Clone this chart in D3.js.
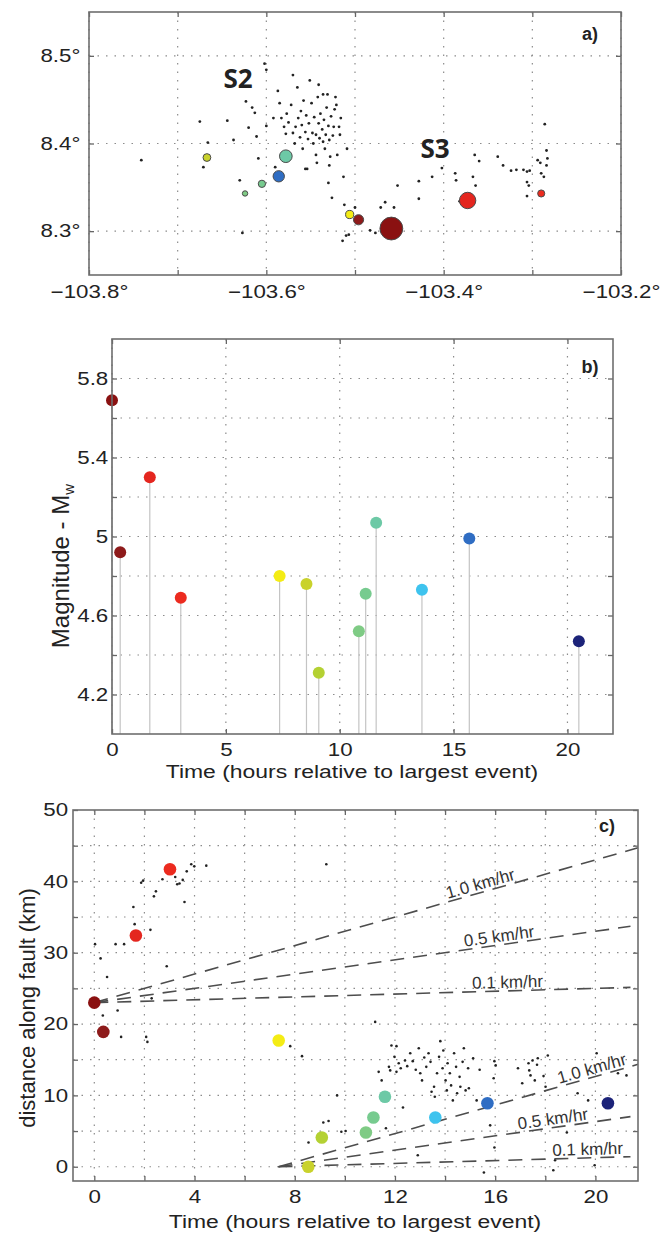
<!DOCTYPE html>
<html>
<head>
<meta charset="utf-8">
<script src="https://cdn.jsdelivr.net/npm/d3@7"></script>
<style>
body { margin: 0; background: #fff; }
svg { display: block; background: #fff; }
text { font-family: "Liberation Sans", Arial, Helvetica, sans-serif; fill: #222; }
.grid line { stroke: #8c8c8c; stroke-width: 1.2; stroke-dasharray: 1.5, 7; }
.tick line { stroke: #666; stroke-width: 1.3; }
.frame { fill: none; stroke: #6e6e6e; stroke-width: 1.6; }
</style>
</head>
<body>
<svg></svg>
<script>
//* ---------- data ----------
// events (shared by panels b and c)
const eventTime = [0.0, 0.36, 1.66, 3.02, 7.36, 8.54, 9.08, 10.84, 11.14, 11.6, 13.61, 15.69, 20.5];
const eventMag = [5.69, 4.92, 5.30, 4.69, 4.80, 4.76, 4.31, 4.52, 4.71, 5.07, 4.73, 4.99, 4.47];
const eventDist = [23.0, 18.9, 32.4, 41.7, 17.7, 0.0, 4.1, 4.8, 6.9, 9.8, 6.9, 8.9, 8.9];
const eventPalette = ["#8a1111", "#8e1b1b", "#e4261f", "#ec2b1f", "#f4ec14", "#c9d22c", "#b4d133",
	"#7fcb85", "#77cb8f", "#6dc9a6", "#3ec3ee", "#2f6dc3", "#1c2379"];

// events located on the map (index into the event arrays)
const mapEvent = [0, 1, 2, 3, 4, 5, 7, 8, 9, 11];
const mapLon = [-103.459, -103.496, -103.373, -103.290, -103.506, -103.667, -103.624, -103.605, -103.578, -103.586];
const mapLat = [8.303, 8.313, 8.335, 8.343, 8.319, 8.384, 8.343, 8.354, 8.3855, 8.3626];

// aftershock epicentres (lon, lat)
const mapDots = [
	[-103.741, 8.381], [-103.675, 8.425], [-103.671, 8.373], [-103.666, 8.401], [-103.644, 8.426],
	[-103.637, 8.404], [-103.630, 8.358], [-103.627, 8.298], [-103.623, 8.448], [-103.620, 8.418],
	[-103.616, 8.441], [-103.613, 8.435], [-103.611, 8.408], [-103.609, 8.383], [-103.602, 8.491],
	[-103.600, 8.484], [-103.600, 8.420], [-103.592, 8.429], [-103.590, 8.373], [-103.587, 8.460],
	[-103.585, 8.446], [-103.583, 8.429], [-103.580, 8.419], [-103.578, 8.411], [-103.577, 8.434],
	[-103.575, 8.424], [-103.572, 8.444], [-103.570, 8.478], [-103.570, 8.412], [-103.568, 8.400],
	[-103.567, 8.419], [-103.565, 8.464], [-103.564, 8.429], [-103.562, 8.407], [-103.561, 8.437],
	[-103.560, 8.421], [-103.559, 8.394], [-103.558, 8.449], [-103.556, 8.413], [-103.555, 8.432],
	[-103.554, 8.371], [-103.553, 8.405], [-103.552, 8.423], [-103.551, 8.472], [-103.549, 8.446],
	[-103.548, 8.412], [-103.547, 8.400], [-103.546, 8.430], [-103.544, 8.387], [-103.544, 8.410],
	[-103.542, 8.453], [-103.541, 8.423], [-103.541, 8.467], [-103.540, 8.406], [-103.539, 8.434],
	[-103.537, 8.416], [-103.536, 8.402], [-103.536, 8.456], [-103.535, 8.427], [-103.534, 8.394],
	[-103.533, 8.410], [-103.532, 8.441], [-103.531, 8.456], [-103.530, 8.420], [-103.529, 8.404],
	[-103.529, 8.375], [-103.528, 8.385], [-103.527, 8.431], [-103.525, 8.409], [-103.524, 8.419],
	[-103.523, 8.439], [-103.522, 8.453], [-103.521, 8.444], [-103.520, 8.387], [-103.518, 8.419],
	[-103.517, 8.410], [-103.516, 8.429], [-103.513, 8.362], [-103.512, 8.330], [-103.509, 8.394],
	[-103.507, 8.296], [-103.514, 8.289], [-103.510, 8.295], [-103.500, 8.327], [-103.483, 8.301],
	[-103.477, 8.298], [-103.471, 8.327], [-103.466, 8.333], [-103.456, 8.327], [-103.452, 8.352],
	[-103.526, 8.338], [-103.530, 8.355], [-103.543, 8.378], [-103.556, 8.371],
	[-103.428, 8.357], [-103.428, 8.337], [-103.413, 8.362], [-103.402, 8.372], [-103.387, 8.366],
	[-103.386, 8.358], [-103.382, 8.334], [-103.367, 8.362], [-103.365, 8.387], [-103.364, 8.352],
	[-103.360, 8.380], [-103.339, 8.385], [-103.333, 8.375], [-103.324, 8.369], [-103.318, 8.370],
	[-103.310, 8.370], [-103.306, 8.368], [-103.303, 8.369], [-103.306, 8.356], [-103.304, 8.352],
	[-103.306, 8.340], [-103.294, 8.381], [-103.291, 8.378], [-103.290, 8.366], [-103.286, 8.422],
	[-103.284, 8.392], [-103.283, 8.383], [-103.284, 8.375], [-103.287, 8.362]
];

// aftershocks in time / distance (hours, km)
const faultDots = [
	[0.03, 31.2], [0.25, 29.2], [0.51, 26.6], [0.34, 21.2], [0.93, 21.9], [1.07, 18.2], [0.85, 31.2],
	[1.19, 31.2], [1.56, 36.4], [1.61, 34.0], [2.07, 18.2], [2.12, 17.5], [2.24, 33.2], [2.29, 23.6],
	[1.87, 39.8], [1.95, 40.1], [2.38, 37.9], [2.46, 38.6], [2.89, 28.1], [2.72, 40.3], [3.23, 40.6],
	[3.31, 39.6], [3.40, 39.7], [3.53, 40.2], [3.69, 41.4], [3.60, 37.1], [3.87, 42.4], [3.99, 42.1],
	[4.47, 42.2], [9.26, 42.4], [7.82, 16.9], [8.29, 15.5], [11.21, 20.3], [8.55, 3.4], [9.14, 6.2],
	[9.35, 6.4], [9.69, 10.0], [9.86, 4.9], [10.03, 5.0], [11.64, 5.4], [12.32, 8.3], [12.91, 1.6],
	[15.55, -0.8], [15.97, 2.7], [15.80, 5.8], [18.32, -0.5],
	[11.35, 13.3], [11.47, 12.1], [11.76, 14.0], [11.86, 17.0], [12.06, 16.9], [11.98, 15.4],
	[12.15, 14.5], [12.23, 13.8], [11.81, 13.5], [12.40, 14.9], [12.49, 14.1], [12.61, 15.9],
	[12.71, 14.8], [12.83, 13.6], [12.95, 16.6], [13.01, 13.1], [13.08, 12.1], [13.17, 15.3],
	[13.25, 14.0], [13.34, 15.9], [13.42, 14.7], [13.46, 10.5], [13.56, 11.2], [13.59, 9.8],
	[13.68, 13.1], [13.76, 15.4], [13.81, 17.6], [13.90, 13.8], [13.93, 16.3], [14.02, 12.1],
	[14.07, 10.7], [14.10, 14.5], [14.19, 13.1], [14.24, 11.4], [14.31, 9.3], [14.36, 15.9],
	[14.44, 14.0], [14.48, 10.3], [14.58, 12.6], [14.61, 11.2], [14.70, 14.7], [14.75, 16.6],
	[14.82, 10.7], [14.92, 13.8], [14.95, 11.0], [15.12, 15.2], [15.26, 9.3], [15.38, 13.6],
	[15.97, 14.8], [16.02, 14.2], [15.94, 12.4], [16.91, 13.8], [17.08, 11.7], [17.33, 14.5],
	[17.36, 13.5], [17.41, 12.8], [17.49, 14.9], [17.58, 12.1], [17.67, 14.3], [17.70, 15.2],
	[17.93, 12.7], [18.01, 11.2], [18.10, 15.6], [19.29, 10.3], [20.05, 15.9], [20.90, 13.1],
	[21.24, 12.8], [19.97, 0.2], [18.39, 0.9], [18.86, 4.8], [19.71, 9.3], [12.06, 13.3]
];

// migration-rate reference lines
const rates = [1.0, 0.5, 0.1];
const rateNames = ["1.0 km/hr", "0.5 km/hr", "0.1 km/hr"];
const rateOrigins = [[0.0, 23.0], [7.35, 0.0]];
const rateLabelTime = [[15.5, 16.2, 16.5], [19.95, 18.35, 19.7]];

// ticks
const lonTicks = [-103.8, -103.7, -103.6, -103.5, -103.4, -103.3, -103.2];
const lonLabels = ["−103.8°", "", "−103.6°", "", "−103.4°", "", "−103.2°"];
const latTicks = [8.3, 8.4, 8.5];
const latLabels = ["8.3°", "8.4°", "8.5°"];
const hourTicksB = [0, 5, 10, 15, 20];
const hourLabelsB = ["0", "5", "10", "15", "20"];
const magTicks = [4.2, 4.4, 4.6, 4.8, 5.0, 5.2, 5.4, 5.6, 5.8];
const magLabels = ["4.2", "", "4.6", "", "5", "", "5.4", "", "5.8"];
const hourTicksC = [0, 2, 4, 6, 8, 10, 12, 14, 16, 18, 20];
const hourLabelsC = ["0", "", "4", "", "8", "", "12", "", "16", "", "20"];
const distTicks = [0, 5, 10, 15, 20, 25, 30, 35, 40, 45];
const distLabels = ["0", "", "10", "", "20", "", "30", "", "40", ""];

//* ---------- svg ----------
const svg = d3.select("svg").attr("width", 670).attr("height", 1234);
const STRETCH = "scale(1.24,1)";

function lab(ticks, labels) {
	return (d) => labels[ticks.findIndex((t) => Math.abs(t - d) < 1e-9)];
}

function panel(p) {
	const x = d3.scaleLinear().domain(p.xd).range([p.l, p.r]);
	const y = d3.scaleLinear().domain(p.yd).range([p.b, p.t]);
	const grid = svg.append("g").attr("class", "grid");
	grid.selectAll("line.gx")
		.data(p.xGrid)
		.join("line")
		.attr("x1", (d) => x(d)).attr("x2", (d) => x(d))
		.attr("y1", p.t).attr("y2", p.b);
	grid.selectAll("line.gy")
		.data(p.yGrid)
		.join("line")
		.attr("class", "gy")
		.attr("x1", p.l).attr("x2", p.r)
		.attr("y1", (d) => y(d)).attr("y2", (d) => y(d));
	const data = svg.append("g");
	const axes = svg.append("g");
	const tk = 5;
	axes.append("g").attr("transform", `translate(0,${p.b})`)
		.call(d3.axisBottom(x).tickValues(p.xTicks).tickSizeInner(-tk).tickSizeOuter(0)
			.tickPadding(p.padX).tickFormat(lab(p.xTicks, p.xLabels)));
	axes.append("g").attr("transform", `translate(0,${p.t})`)
		.call(d3.axisTop(x).tickValues(p.xTicks).tickSizeInner(-tk).tickSizeOuter(0).tickFormat(""));
	axes.append("g").attr("transform", `translate(${p.l},0)`)
		.call(d3.axisLeft(y).tickValues(p.yTicks).tickSizeInner(-tk).tickSizeOuter(0)
			.tickPadding(p.padY).tickFormat(lab(p.yTicks, p.yLabels)));
	axes.append("g").attr("transform", `translate(${p.r},0)`)
		.call(d3.axisRight(y).tickValues(p.yTicks).tickSizeInner(-tk).tickSizeOuter(0).tickFormat(""));
	axes.selectAll(".domain").remove();
	axes.selectAll(".tick text")
		.attr("font-size", 18)
		.attr("font-family", null)
		.style("fill", "#222")
		.attr("transform", STRETCH);
	axes.append("rect").attr("class", "frame")
		.attr("x", p.l).attr("y", p.t).attr("width", p.r - p.l).attr("height", p.b - p.t);
	axes.append("text")
		.attr("x", p.tagX).attr("y", p.tagY)
		.attr("font-size", 18).attr("font-weight", "bold")
		.attr("text-anchor", "middle")
		.text(p.tag);
	return { x, y, data, axes };
}

//* ---------- panel a : map ----------
const A = panel({
	l: 89, r: 621, t: 12, b: 275,
	xd: [-103.8, -103.2], yd: [8.25, 8.55],
	xGrid: lonTicks, yGrid: latTicks,
	xTicks: lonTicks, xLabels: lonLabels, yTicks: latTicks, yLabels: latLabels,
	padX: 10, padY: 7, tag: "a)", tagX: 590, tagY: 40
});
const magRadius = d3.scaleLinear().domain([4.5, 4.8, 5.7]).range([2.6, 4.1, 11.5]);

A.data.selectAll("circle.dot")
	.data(mapDots)
	.join("circle")
	.attr("class", "dot")
	.attr("cx", (d) => A.x(d[0]))
	.attr("cy", (d) => A.y(d[1]))
	.attr("r", 1.4)
	.style("fill", "#222");

A.data.selectAll("circle.ev")
	.data(mapEvent.map((e, i) => ({ e, lon: mapLon[i], lat: mapLat[i] })))
	.join("circle")
	.attr("class", "ev")
	.attr("cx", (d) => A.x(d.lon))
	.attr("cy", (d) => A.y(d.lat))
	.attr("r", (d) => magRadius(eventMag[d.e]))
	.style("fill", (d) => eventPalette[d.e])
	.style("stroke", "#4a4a4a")
	.style("stroke-width", 1);

A.axes.append("text").attr("x", 238).attr("y", 88)
	.attr("text-anchor", "middle").attr("font-size", 26).attr("font-weight", 700)
	.style("font-family", "'Open Sans', sans-serif").text("S2");
A.axes.append("text").attr("x", 435).attr("y", 158)
	.attr("text-anchor", "middle").attr("font-size", 26).attr("font-weight", 700)
	.style("font-family", "'Open Sans', sans-serif").text("S3");

//* ---------- panel b : magnitude vs time ----------
const B = panel({
	l: 112, r: 613, t: 339, b: 734,
	xd: [0, 22], yd: [4.0, 6.0],
	xGrid: hourTicksB, yGrid: magTicks,
	xTicks: hourTicksB, xLabels: hourLabelsB, yTicks: magTicks, yLabels: magLabels,
	padX: 9, padY: 3, tag: "b)", tagX: 590, tagY: 373
});

B.data.selectAll("line.stem")
	.data(eventTime)
	.join("line")
	.attr("class", "stem")
	.attr("x1", (d) => B.x(d)).attr("x2", (d) => B.x(d))
	.attr("y1", B.y(4.0))
	.attr("y2", (_, i) => B.y(eventMag[i]))
	.style("stroke", "#c4c4c4")
	.style("stroke-width", 1.2);

B.data.selectAll("circle.ev")
	.data(eventTime)
	.join("circle")
	.attr("class", "ev")
	.attr("cx", (d) => B.x(d))
	.attr("cy", (_, i) => B.y(eventMag[i]))
	.attr("r", 6)
	.style("fill", (_, i) => eventPalette[i]);

svg.append("text")
	.attr("transform", `translate(352,778) ${STRETCH}`)
	.attr("text-anchor", "middle").attr("font-size", 18.5)
	.text("Time (hours relative to largest event)");

const magTitle = svg.append("text")
	.attr("transform", "translate(69,566) rotate(-90)")
	.attr("text-anchor", "middle").attr("font-size", 24)
	.text("Magnitude - M");
magTitle.append("tspan").attr("font-size", 15).attr("dy", 5).text("w");

//* ---------- panel c : distance vs time ----------
const C = panel({
	l: 73, r: 638, t: 810, b: 1181,
	xd: [-0.85, 21.7], yd: [-2, 50],
	xGrid: hourTicksC, yGrid: distTicks,
	xTicks: hourTicksC, xLabels: hourLabelsC, yTicks: distTicks.concat([50]), yLabels: distLabels.concat(["50"]),
	padX: 9, padY: 4, tag: "c)", tagX: 607, tagY: 832
});

C.data.selectAll("circle.dot")
	.data(faultDots)
	.join("circle")
	.attr("class", "dot")
	.attr("cx", (d) => C.x(d[0]))
	.attr("cy", (d) => C.y(d[1]))
	.attr("r", 1.3)
	.style("fill", "#222");

const rateLines = [];
rateOrigins.forEach((o, gi) => {
	rates.forEach((v, ri) => {
		rateLines.push({ o, v, name: rateNames[ri], tl: rateLabelTime[gi][ri], end: ri === 0 ? 21.7 : 21.4 });
	});
});

C.data.selectAll("line.rate")
	.data(rateLines)
	.join("line")
	.attr("class", "rate")
	.attr("x1", (d) => C.x(d.o[0]))
	.attr("y1", (d) => C.y(d.o[1]))
	.attr("x2", (d) => C.x(d.end))
	.attr("y2", (d) => C.y(d.o[1] + d.v * (d.end - d.o[0])))
	.style("stroke", "#4d4d4d")
	.style("stroke-width", 1.6)
	.style("stroke-dasharray", "14,9");

C.data.selectAll("text.rate")
	.data(rateLines)
	.join("text")
	.attr("class", "rate")
	.attr("transform", (d) => {
		const px = C.x(d.tl);
		const py = C.y(d.o[1] + d.v * (d.tl - d.o[0]));
		const ang = Math.atan2(C.y(d.o[1]) - C.y(d.o[1] + d.v), C.x(1) - C.x(0)) * 180 / Math.PI;
		return `translate(${px},${py}) rotate(${-ang})`;
	})
	.attr("dy", -3)
	.attr("text-anchor", "middle")
	.attr("font-size", 17)
	.style("fill", "#333")
	.text((d) => d.name);

C.data.selectAll("circle.ev")
	.data(eventTime)
	.join("circle")
	.attr("class", "ev")
	.attr("cx", (d) => C.x(d))
	.attr("cy", (_, i) => C.y(eventDist[i]))
	.attr("r", 6.3)
	.style("fill", (_, i) => eventPalette[i]);

svg.append("text")
	.attr("transform", `translate(355,1228) ${STRETCH}`)
	.attr("text-anchor", "middle").attr("font-size", 18.5)
	.text("Time (hours relative to largest event)");

svg.append("text")
	.attr("transform", "translate(35,1008) rotate(-90)")
	.attr("text-anchor", "middle").attr("font-size", 22)
	.text("distance along fault (km)");
</script>
</body>
</html>
